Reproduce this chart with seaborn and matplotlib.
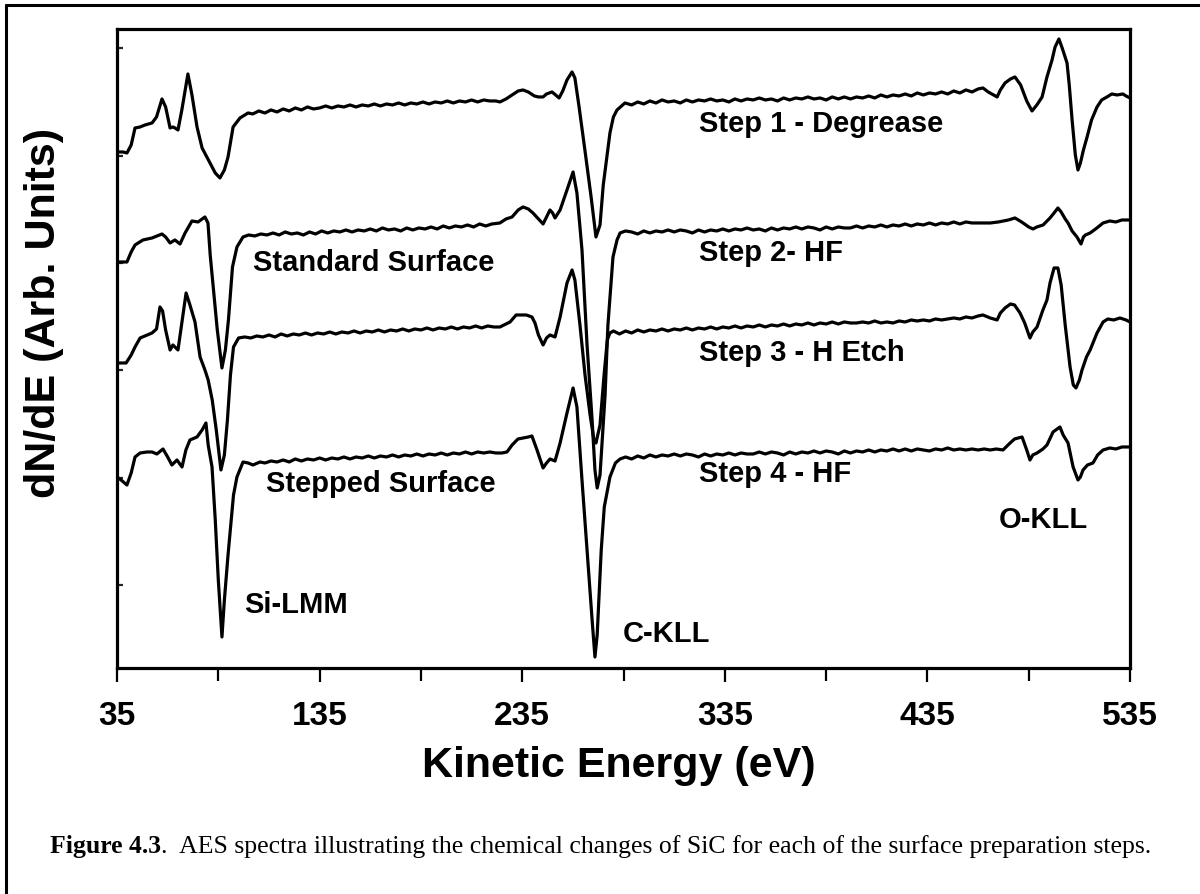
import matplotlib
matplotlib.use("Agg")
import matplotlib.pyplot as plt
from matplotlib.lines import Line2D
from matplotlib.ticker import FixedLocator
import pandas as pd
import seaborn as sns

# ---------------- data (kinetic energy in eV, dN/dE in arbitrary offset units) ----------------
energy_step1 = [35, 38, 39.9, 42, 43.9, 46.4, 48.8, 52.3, 54.5, 57.2, 59, 61.2, 62.6, 63.6, 65.1, 67, 70, 72, 74.5, 77, 80.9, 83.5, 85.8, 88, 89.8, 92.3, 95.7, 99.7,
                102, 105, 108, 111, 114, 117, 120, 123, 126, 129, 132, 135, 138, 141, 144, 147, 150, 153, 156, 159, 162, 165, 168, 171, 174, 177, 180, 183, 186, 189, 192, 195, 198, 201, 204, 207, 210, 213, 216, 219, 222,
                224, 227, 230, 233, 235.4, 238, 241, 243, 245.3, 247, 249.7, 251.5, 253.2, 255, 257.1, 259.6, 261, 263, 266, 269, 271.4, 273.4, 275, 278.3, 280, 281.8, 285.7,
                289, 292, 295, 298, 301, 304, 307, 310, 313, 316, 319, 322, 325, 328, 331, 334, 337, 340, 343, 346, 349, 352, 355, 358, 361, 364, 367, 370, 373, 376, 379, 382, 385, 388, 391, 394, 397, 400, 403, 406, 409, 412, 415, 418, 421, 424, 427, 430, 433, 436, 439, 442, 445, 448, 451, 454, 457, 460,
                462.4, 465, 469.4, 471, 473.3, 476, 478.2, 481, 484, 486.6, 489, 491.6, 494, 496.5, 498, 499.9, 501.5, 503.9, 505, 506.4, 508, 509.3, 510.5, 512, 513.8, 516, 518.7, 521, 523.6, 526, 528.6, 531.5, 533, 535]
signal_step1 = [433, 433, 432, 440, 457, 458, 460, 462, 468, 486, 478, 457, 458, 457, 455, 475, 511, 490, 458, 437, 422, 412, 407, 415, 428, 458, 467, 472,
                471, 474, 472, 475, 473, 476, 474, 477, 475, 478, 476, 477, 479, 477, 479, 478, 480, 478, 480, 479, 481, 479, 481, 480, 482, 480, 482, 481, 483, 481, 483, 482, 484, 482, 484, 483, 485, 483, 485, 484, 484,
                483, 486, 490, 494, 495, 493, 489, 488, 488, 491, 493, 490, 487, 494, 505, 513, 507, 479, 434, 388, 348, 360, 400, 452, 468, 475, 482,
                480, 483, 481, 484, 482, 485, 483, 484, 482, 485, 483, 485, 484, 486, 484, 485, 483, 486, 484, 486, 485, 487, 485, 486, 484, 487, 485, 487, 486, 488, 486, 487, 485, 488, 486, 488, 486, 488, 487, 489, 487, 490, 488, 490, 489, 491, 489, 492, 490, 492, 491, 493, 491, 494, 492, 495, 493, 496,
                497, 493, 488, 495, 502, 506, 508, 500, 484, 474, 480, 488, 508, 525, 538, 546, 537, 522, 500, 465, 430, 415, 422, 435, 448, 465, 478, 485, 488, 491, 490, 491, 489, 487]

energy_step2 = [35, 39.9, 42, 43.9, 47.8, 52.3, 57.2, 59, 61.2, 63.6, 66.1, 68.6, 72, 75, 78.4, 79.9, 81, 82.4, 84.5, 86.8, 88.5, 90, 92, 94.2, 97.2, 100,
                103, 106, 109, 112, 115, 118, 121, 124, 127, 130, 133, 136, 139, 142, 145, 148, 151, 154, 157, 160, 163, 166, 169, 172, 175, 178, 181, 184, 187, 190, 193, 196, 199, 202, 205, 208, 211, 214, 217, 220,
                224, 227, 230, 233, 235.4, 238, 240.3, 243, 245.3, 247, 248.7, 250, 251.2, 253.7, 257.1, 260.1, 262, 264.5, 267, 269.5, 270.9, 272, 273.4, 275.9, 277.3, 279.8, 281.8, 283.3, 286,
                289, 292, 295, 298, 301, 304, 307, 310, 313, 316, 319, 322, 325, 328, 331, 334, 337, 340, 343, 346, 349, 352, 355, 358, 361, 364, 367, 370, 373, 376, 379, 382, 385, 388, 391, 394, 397, 400, 403, 406, 409, 412, 415, 418, 421, 424, 427, 430, 433, 436, 439, 442, 445, 448, 451, 454, 457, 460, 463,
                466, 470, 475, 478.2, 480.7, 482.2, 485, 487.1, 489, 492.1, 494, 495.5, 497.5, 499.4, 501, 503, 504.4, 506.4, 508.8, 510.8, 512, 513, 515.3, 518, 521.7, 525, 528, 531, 535]
signal_step2 = [323, 323, 333, 340, 345, 347, 351, 348, 342, 345, 341, 352, 364, 363, 368, 362, 330, 300, 255, 217, 235, 265, 318, 338, 348, 350,
                349, 351, 350, 352, 350, 353, 351, 352, 350, 353, 351, 354, 352, 354, 353, 355, 353, 355, 354, 356, 354, 357, 355, 356, 354, 357, 355, 357, 356, 358, 356, 359, 357, 359, 358, 360, 358, 361, 359, 361,
                362, 366, 368, 375, 378, 376, 372, 366, 361, 368, 375, 372, 367, 375, 395, 413, 392, 335, 240, 165, 115, 97, 110, 190, 260, 328, 345, 352, 354,
                353, 351, 354, 352, 354, 353, 355, 353, 355, 354, 352, 355, 353, 355, 354, 356, 354, 356, 355, 357, 355, 356, 354, 357, 355, 357, 356, 358, 356, 358, 357, 355, 358, 356, 358, 357, 357, 359, 357, 359, 358, 360, 358, 360, 359, 361, 359, 361, 360, 362, 360, 362, 361, 363, 361, 363, 362, 362, 362,
                362, 363, 365, 367, 364, 362, 358, 356, 358, 360, 364, 367, 372, 377, 373, 366, 362, 354, 348, 341, 348, 350, 352, 356, 362, 364, 363, 365, 365]

energy_step3 = [35, 39.5, 42, 43.9, 46.4, 48.8, 52.3, 54.5, 56.2, 57.5, 59, 61.2, 62.6, 63.6, 65.1, 67, 69.1, 71, 73.5, 76, 78.4, 80, 82, 84, 86.3, 88, 89.5, 91, 92.5, 95, 98,
                101, 104, 107, 110, 113, 116, 119, 122, 125, 128, 131, 134, 137, 140, 143, 146, 149, 152, 155, 158, 161, 164, 167, 170, 173, 176, 179, 182, 185, 188, 191, 194, 197, 200, 203, 206, 209, 212, 215, 218, 221,
                224, 227, 229, 232, 234, 237, 239.8, 241.3, 243, 245.3, 247, 248.7, 251.2, 253.7, 257.1, 259.6, 261, 263.5, 266, 268.5, 270.4, 271.4, 273.4, 275.4, 277, 278.3, 280,
                283, 286, 289, 292, 295, 298, 301, 304, 307, 310, 313, 316, 319, 322, 325, 328, 331, 334, 337, 340, 343, 346, 349, 352, 355, 358, 361, 364, 367, 370, 373, 376, 379, 382, 385, 388, 391, 394, 397, 400, 403, 406, 409, 412, 415, 418, 421, 424, 427, 430, 433, 436, 439, 442, 445, 448, 451, 454, 457, 460, 462.4,
                466, 469.4, 471, 473.3, 476, 478, 480.7, 483, 485.6, 487, 489.1, 492, 494, 495.5, 497.5, 499.4, 501, 503, 505.4, 507, 508.3, 510, 511.3, 513.5, 515.3, 518.7, 521.7, 524, 527, 530, 533, 535]
signal_step3 = [222, 222, 230, 238, 247, 249, 252, 256, 278, 274, 255, 235, 240, 238, 235, 262, 292, 280, 263, 228, 215, 205, 185, 155, 115, 130, 165, 210, 238, 247, 248,
                247, 249, 248, 250, 248, 251, 249, 251, 250, 252, 250, 252, 251, 253, 251, 253, 252, 254, 252, 254, 253, 255, 253, 255, 254, 256, 254, 256, 255, 257, 255, 257, 256, 258, 256, 258, 257, 259, 257, 259, 258,
                258, 261, 263, 270, 270, 270, 268, 262, 250, 240, 247, 250, 248, 268, 302, 315, 305, 260, 210, 170, 145, 142, 160, 210, 245, 252, 254,
                251, 254, 252, 255, 253, 255, 254, 256, 254, 256, 255, 257, 255, 257, 256, 258, 256, 258, 257, 259, 257, 259, 258, 260, 258, 260, 259, 261, 259, 261, 260, 262, 260, 262, 261, 263, 261, 263, 262, 262, 263, 262, 264, 262, 263, 262, 264, 263, 265, 264, 265, 264, 266, 265, 266, 267, 266, 268, 267, 269, 270,
                267, 265, 272, 277, 281, 280, 272, 262, 247, 253, 258, 275, 285, 302, 317, 317, 300, 260, 218, 200, 197, 205, 215, 228, 235, 252, 263, 266, 265, 267, 265, 263]

energy_step4 = [35, 37, 39.9, 42, 43.9, 46.4, 49.8, 52.3, 54.7, 57.7, 60, 62.1, 64.6, 67.1, 69, 71, 74.5, 77, 78.9, 80, 81.9, 83.5, 85, 86.8, 88, 89.8, 90.8, 92.5, 94.2, 97.2, 99.7, 102.1, 105.6,
                108, 111, 114, 117, 120, 123, 126, 129, 132, 135, 138, 141, 144, 147, 150, 153, 156, 159, 162, 165, 168, 171, 174, 177, 180, 183, 186, 189, 192, 195, 198, 201, 204, 207, 210, 213, 216, 219, 222,
                225, 227.5, 230, 232.9, 235.4, 238, 239.8, 242.3, 245.3, 247, 248.7, 251.2, 253.7, 257.1, 260.1, 262, 264.5, 267, 269.5, 270.9, 272, 274, 275.5, 278.3, 281, 283.3, 286,
                289, 292, 295, 298, 301, 304, 307, 310, 313, 316, 319, 322, 325, 328, 331, 334, 337, 340, 343, 346, 349, 352, 355, 358, 361, 364, 367, 370, 373, 376, 379, 382, 385, 388, 391, 394, 397, 400, 403, 406, 409, 412, 415, 418, 421, 424, 427, 430, 433, 436, 439, 442, 445, 448, 451, 454, 457, 460, 463, 466, 469, 472.3,
                475.8, 478, 481.7, 484, 485.6, 487, 489.1, 492, 494, 497, 500.4, 502, 504.4, 506.9, 509.3, 510.5, 511.8, 514, 516.7, 519, 521.7, 525, 528, 531, 535]
signal_step4 = [108, 105, 100, 112, 128, 132, 133, 133, 131, 136, 128, 120, 125, 118, 135, 145, 148, 155, 162, 140, 118, 65, 5, -52, -15, 30, 52, 90, 108, 123, 122, 120, 123,
                122, 124, 123, 125, 123, 126, 124, 126, 125, 127, 125, 127, 126, 128, 126, 128, 127, 129, 127, 129, 128, 130, 128, 130, 129, 131, 129, 131, 130, 132, 130, 132, 131, 133, 131, 133, 132, 133, 132,
                132, 133, 140, 146, 147, 148, 149, 135, 117, 122, 126, 124, 142, 172, 197, 178, 105, 35, -35, -72, -50, 35, 78, 108, 122, 126, 128,
                126, 129, 127, 130, 128, 130, 129, 131, 129, 131, 130, 128, 131, 129, 131, 130, 132, 130, 132, 131, 131, 133, 131, 133, 132, 130, 133, 131, 133, 132, 134, 132, 134, 133, 131, 134, 132, 134, 133, 135, 133, 135, 134, 136, 134, 136, 134, 136, 135, 134, 136, 135, 137, 135, 136, 135, 136, 135, 136, 135, 136, 135,
                142, 146, 148, 135, 125, 130, 132, 136, 140, 153, 158, 150, 142, 118, 105, 108, 115, 120, 122, 130, 135, 137, 136, 138, 138]

step_names = ["Step 1 - Degrease", "Step 2- HF", "Step 3 - H Etch", "Step 4 - HF"]
x_tick_values = [35, 135, 235, 335, 435, 535]
x_minor_values = [85, 185, 285, 385, 485]
x_label = "Kinetic Energy (eV)"
y_label = "dN/dE (Arb. Units)"
caption_bold = "Figure 4.3"
caption_rest = ".  AES spectra illustrating the chemical changes of SiC for each of the surface preparation steps."

frames = []
for name, e, s in zip(step_names,
                      [energy_step1, energy_step2, energy_step3, energy_step4],
                      [signal_step1, signal_step2, signal_step3, signal_step4]):
    frames.append(pd.DataFrame({"energy": e, "signal": s, "step": name}))
df = pd.concat(frames, ignore_index=True)

# ---------------- style ----------------
sns.set_theme(style="ticks")
plt.rcParams["font.family"] = ["Liberation Sans", "DejaVu Sans"]
plt.rcParams["font.weight"] = "bold"

fig = plt.figure(figsize=(12, 8.94), dpi=100)
ax = fig.add_axes([0.0975, 0.2528, 0.8442, 0.7148])

for name in step_names:
    sub = df[df["step"] == name]
    sns.lineplot(data=sub, x="energy", y="signal", ax=ax, color="black",
                 linewidth=2.3, sort=False, estimator=None, legend=False)

ax.set_xlim(35, 535)
ax.set_ylim(-83, 556)
ax.xaxis.set_major_locator(FixedLocator(x_tick_values))
ax.xaxis.set_minor_locator(FixedLocator(x_minor_values))
ax.set_xticklabels([str(v) for v in x_tick_values])
ax.yaxis.set_major_locator(FixedLocator([0, 107.3, 214.6, 321.9, 429.2, 536.5]))
ax.set_yticklabels([])

for sp in ax.spines.values():
    sp.set_linewidth(2.3)
    sp.set_color("black")

ax.tick_params(axis="x", which="major", direction="out", length=10, width=1.6,
               labelsize=24, pad=14, colors="black")
ax.tick_params(axis="x", which="minor", direction="out", length=9, width=1.6, colors="black")
ax.tick_params(axis="y", which="major", direction="in", length=4, width=1.6,
               left=True, right=False, labelleft=False)
for lab in ax.get_xticklabels():
    lab.set_fontweight("bold")

ax.set_xlabel(x_label, fontsize=31, fontweight="bold", color="black")
ax.set_ylabel(y_label, fontsize=31, fontweight="bold", color="black")
ax.xaxis.set_label_coords(0.4956, -0.122)
ax.yaxis.set_label_coords(-0.052, 0.555)

# annotations (data coordinates)
ann_kw = dict(fontsize=21, fontweight="bold", ha="left", va="baseline", color="black")
ax.text(322.3, 453, "Step 1 - Degrease", **ann_kw)
ax.text(102.1, 314, "Standard Surface", **ann_kw)
ax.text(322.3, 324, "Step 2- HF", **ann_kw)
ax.text(322.3, 224, "Step 3 - H Etch", **ann_kw)
ax.text(108.5, 93, "Stepped Surface", **ann_kw)
ax.text(322.3, 103, "Step 4 - HF", **ann_kw)
ax.text(97.7, -28, "Si-LMM", **ann_kw)
ax.text(284.8, -57, "C-KLL", **ann_kw)
ax.text(470.3, 57, "O-KLL", **ann_kw)

# figure frame (left and top edges visible)
fig.add_artist(Line2D([0.005, 0.005], [0.0, 0.9944], transform=fig.transFigure,
                      color="black", linewidth=2.2))
fig.add_artist(Line2D([0.005, 1.0], [0.9944, 0.9944], transform=fig.transFigure,
                      color="black", linewidth=2.2))

# caption
t1 = fig.text(0.0417, 0.0459, caption_bold, fontsize=18.5, fontweight="bold",
              family=["Liberation Serif", "DejaVu Serif"], ha="left", va="baseline", color="black")
ax.annotate(caption_rest, xy=(1, 0), xycoords=t1, xytext=(0, 0), textcoords="offset points",
            ha="left", va="bottom", fontsize=18.5, fontweight="normal",
            family=["Liberation Serif", "DejaVu Serif"], color="black", annotation_clip=False)

fig.savefig("out.png", dpi=100)
